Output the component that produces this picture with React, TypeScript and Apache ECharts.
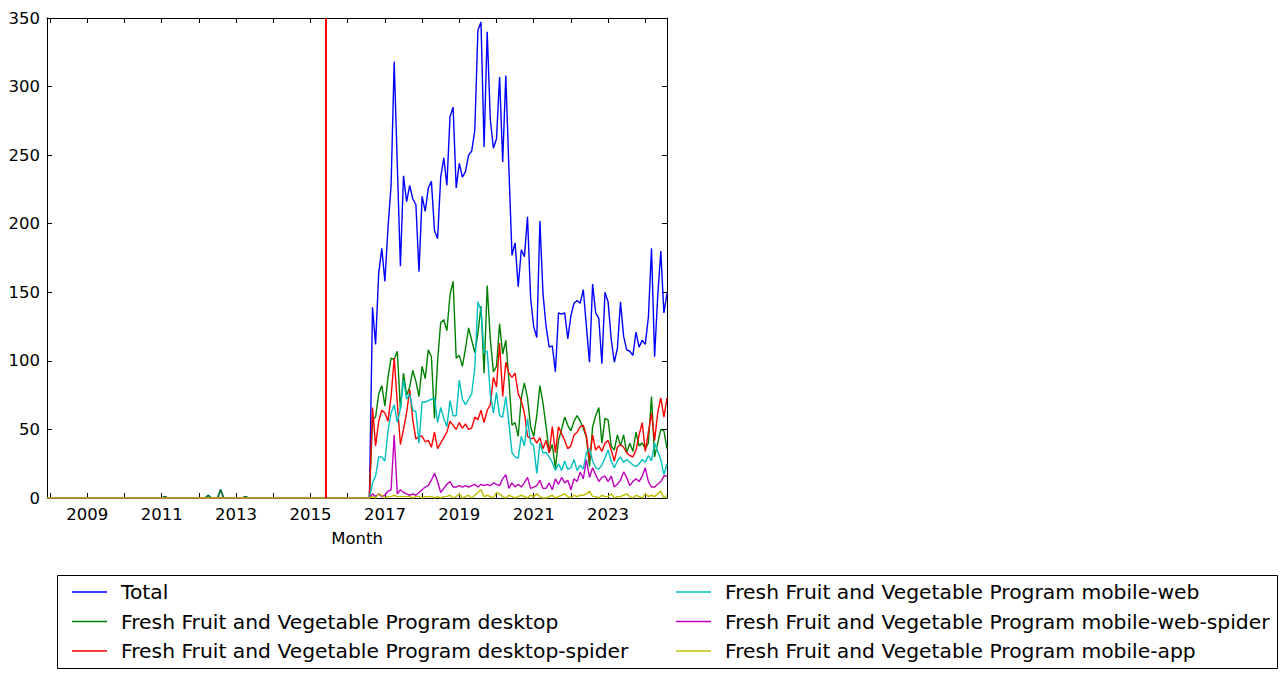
import React, { useEffect, useRef } from "react";
import * as echarts from "echarts";

const SERIES_NAMES = [
  "Total",
  "Fresh Fruit and Vegetable Program desktop",
  "Fresh Fruit and Vegetable Program desktop-spider",
  "Fresh Fruit and Vegetable Program mobile-web",
  "Fresh Fruit and Vegetable Program mobile-web-spider",
  "Fresh Fruit and Vegetable Program mobile-app",
];
const SERIES_COLORS = ["#0000ff", "#008000", "#ff0000", "#00bfbf", "#bf00bf", "#bfbf00"];

const X_MIN_MONTH = "2007-12";
const X_MAX_MONTH = "2024-08";
const FIRST_MONTH = "2016-09";
const VLINE_MONTH = "2015-06";
const X_TICK_YEARS = [2008, 2009, 2010, 2011, 2012, 2013, 2014, 2015, 2016, 2017, 2018, 2019, 2020, 2021, 2022, 2023, 2024];
const X_LABEL_YEARS = [2009, 2011, 2013, 2015, 2017, 2019, 2021, 2023];
const Y_MAX = 350;
const Y_STEP = 50;

// sparse early points (before monthly data starts)
const earlyDesktop: [string, number][] = [
  ["2007-12", 0], ["2011-01", 0], ["2011-02", 1], ["2011-03", 0],
  ["2012-03", 0], ["2012-04", 2], ["2012-05", 0], ["2012-07", 0],
  ["2012-08", 6], ["2012-09", 0], ["2013-03", 0], ["2013-04", 1],
  ["2013-05", 0], ["2016-08", 0],
];
const earlyFlat: [string, number][] = [["2007-12", 0], ["2016-08", 0]];

// monthly values from 2016-09 to 2024-08
const total = [
  139, 112, 164, 182, 158, 197, 228, 318, 243, 169,
  235, 216, 228, 218, 214, 165, 220, 209, 226, 231,
  195, 189, 234, 248, 228, 278, 285, 226, 244, 234,
  238, 250, 253, 268, 341, 347, 256, 340, 276, 255,
  262, 307, 245, 308, 240, 177, 186, 154, 181, 176,
  205, 146, 125, 117, 202, 149, 125, 110, 111, 92,
  135, 134, 135, 116, 133, 142, 144, 142, 152, 125,
  99, 156, 135, 131, 98, 150, 143, 116, 99, 109,
  143, 118, 108, 107, 104, 121, 110, 115, 112, 132,
  182, 103, 147, 180, 135, 149,
];
const desktop = [
  57, 59, 76, 82, 67, 88, 102, 101, 107, 65,
  91, 75, 81, 93, 85, 74, 96, 87, 108, 103,
  58, 100, 128, 130, 122, 148, 158, 102, 104, 96,
  109, 124, 115, 106, 120, 140, 91, 155, 116, 92,
  96, 127, 105, 115, 86, 53, 55, 45, 73, 84,
  73, 52, 45, 60, 82, 69, 52, 33, 39, 22,
  42, 50, 59, 53, 49, 56, 60, 56, 51, 44,
  23, 52, 60, 66, 40, 58, 57, 38, 35, 46,
  38, 46, 33, 40, 34, 48, 38, 40, 36, 40,
  74, 30, 40, 50, 49, 36,
];
const desktopSpider = [
  66, 38, 56, 64, 62, 56, 74, 102, 69, 39,
  50, 62, 79, 57, 43, 45, 45, 41, 42, 37,
  48, 36, 40, 44, 48, 56, 53, 50, 55, 51,
  54, 50, 51, 59, 57, 64, 55, 64, 68, 88,
  81, 113, 74, 99, 91, 88, 91, 76, 71, 62,
  45, 43, 44, 40, 44, 36, 42, 33, 52, 33,
  52, 47, 42, 36, 38, 46, 48, 52, 53, 45,
  28, 46, 35, 38, 34, 40, 42, 35, 27, 37,
  39, 37, 33, 31, 30, 35, 46, 55, 34, 48,
  62, 42, 62, 73, 59, 73,
];
const mobileWeb = [
  11, 16, 30, 30, 27, 49, 62, 68, 55, 65,
  86, 72, 76, 64, 63, 40, 70, 70, 71, 72,
  73, 55, 66, 58, 52, 71, 60, 60, 86, 72,
  68, 72, 76, 95, 143, 137, 106, 107, 76, 62,
  77, 60, 59, 74, 55, 33, 30, 29, 45, 38,
  58, 40, 38, 18, 40, 33, 33, 30, 26, 20,
  25, 20, 27, 21, 22, 28, 20, 24, 21, 33,
  36, 27, 22, 21, 24, 29, 35, 27, 22, 27,
  30, 26, 28, 26, 24, 23, 25, 28, 26, 31,
  27, 40, 34, 28, 17, 25,
];
const mobileWebSpider = [
  3, 1, 3, 1, 2, 5, 6, 46, 3, 6,
  4, 3, 2, 3, 2, 4, 6, 8, 9, 13,
  18, 12, 4, 7, 10, 12, 8, 8, 9, 8,
  9, 8, 9, 10, 8, 10, 9, 10, 9, 11,
  10, 9, 14, 17, 7, 11, 8, 10, 8, 11,
  15, 7, 8, 9, 13, 7, 7, 11, 6, 14,
  10, 15, 11, 13, 6, 14, 12, 19, 14, 28,
  15, 22, 17, 12, 15, 16, 12, 16, 8, 10,
  13, 19, 15, 9, 12, 14, 12, 16, 22, 12,
  8, 8, 10, 12, 16, 16,
];
const mobileApp = [
  1, 0, 3, 2, 0, 1, 1, 2, 1, 1,
  1, 1, 1, 0, 1, 1, 0, 1, 1, 1,
  0, 1, 0, 1, 1, 2, 0, 1, 3, 0,
  1, 2, 0, 2, 4, 6, 1, 2, 1, 0,
  4, 3, 1, 0, 2, 1, 0, 1, 2, 1,
  0, 2, 1, 3, 1, 0, 0, 1, 2, 0,
  1, 2, 3, 1, 0, 2, 1, 2, 2, 3,
  5, 1, 1, 0, 2, 1, 1, 3, 0, 1,
  1, 2, 3, 1, 0, 2, 1, 0, 3, 1,
  2, 1, 3, 5, 0, 2,
];

const SERIES_VALUES = [total, desktop, desktopSpider, mobileWeb, mobileWebSpider, mobileApp];
const SERIES_EARLY = [earlyDesktop, earlyDesktop, earlyFlat, earlyFlat, earlyFlat, earlyFlat];

function ym(s: string): number {
  const [y, m] = s.split("-").map(Number);
  return y + (m - 1) / 12;
}

const FONT = "DejaVu Sans";

export default function App() {
  const ref = useRef<HTMLDivElement>(null);
  useEffect(() => {
    if (!ref.current) return;
    const chart = echarts.init(ref.current, undefined, { renderer: "svg" });
    const start = ym(FIRST_MONTH);
    const series: any[] = SERIES_NAMES.map((name, si) => {
      const data: [number, number][] = SERIES_EARLY[si].map(([m, v]) => [ym(m), v]);
      SERIES_VALUES[si].forEach((v, i) => data.push([start + i / 12, v]));
      const s: any = {
        name,
        type: "line",
        data,
        symbol: "none",
        showSymbol: false,
        clip: true,
        color: SERIES_COLORS[si],
        lineStyle: { color: SERIES_COLORS[si], width: 1.4 },
        emphasis: { disabled: true },
        xAxisIndex: 0,
        yAxisIndex: 0,
      };
      if (si === 0) {
        s.markLine = {
          silent: true,
          symbol: ["none", "none"],
          label: { show: false },
          lineStyle: { color: "#ff0000", width: 2, type: "solid" },
          emphasis: { disabled: true },
          data: [{ xAxis: ym(VLINE_MONTH) }],
        };
      }
      return s;
    });
    const axisLine = { show: true, onZero: false, lineStyle: { color: "#000", width: 1 } };
    const tickStyle = { color: "#000", width: 1 };
    const xMin = ym(X_MIN_MONTH);
    const xMax = ym(X_MAX_MONTH);
    const legendCommon = {
      orient: "vertical",
      top: 582,
      padding: 0,
      icon: "rect",
      itemWidth: 35,
      itemHeight: 1.5,
      itemGap: 9.5,
      selectedMode: false,
      textStyle: { fontFamily: FONT, fontSize: 20.3, color: "#000", lineHeight: 20, padding: [0, 0, 0, 9] },
    };
    chart.setOption({
      animation: false,
      backgroundColor: "#ffffff",
      grid: { left: 47, top: 18, width: 620, height: 480, containLabel: false },
      xAxis: [
        {
          type: "value",
          position: "bottom",
          min: xMin,
          max: xMax,
          axisLine,
          axisTick: { show: true, inside: true, length: 5, customValues: X_TICK_YEARS, lineStyle: tickStyle },
          axisLabel: {
            customValues: X_LABEL_YEARS,
            formatter: (v: number) => String(Math.round(v)),
            color: "#000",
            fontFamily: FONT,
            fontSize: 16.5,
            margin: 8,
          },
          splitLine: { show: false },
          name: "Month",
          nameLocation: "middle",
          nameGap: 32,
          nameTextStyle: { color: "#000", fontFamily: FONT, fontSize: 16.5 },
        },
        {
          type: "value",
          position: "top",
          min: xMin,
          max: xMax,
          axisLine,
          axisTick: { show: true, inside: true, length: 5, customValues: X_TICK_YEARS, lineStyle: tickStyle },
          axisLabel: { show: false },
          splitLine: { show: false },
        },
      ],
      yAxis: [
        {
          type: "value",
          position: "left",
          min: 0,
          max: Y_MAX,
          interval: Y_STEP,
          axisLine,
          axisTick: { show: true, inside: true, length: 5, lineStyle: tickStyle },
          axisLabel: { color: "#000", fontFamily: FONT, fontSize: 16.5, margin: 7 },
          splitLine: { show: false },
        },
        {
          type: "value",
          position: "right",
          min: 0,
          max: Y_MAX,
          interval: Y_STEP,
          axisLine,
          axisTick: { show: true, inside: true, length: 5, lineStyle: tickStyle },
          axisLabel: { show: false },
          splitLine: { show: false },
        },
      ],
      legend: [
        { ...legendCommon, left: 72, data: SERIES_NAMES.slice(0, 3) },
        { ...legendCommon, left: 676, data: SERIES_NAMES.slice(3, 6) },
      ],
      graphic: [
        {
          type: "rect",
          shape: { x: 57.5, y: 575.5, width: 1220, height: 93 },
          style: { fill: "none", stroke: "#000", lineWidth: 1 },
          silent: true,
        },
      ],
      series,
    });
    return () => chart.dispose();
  }, []);
  return (
    <div
      ref={ref}
      style={{ position: "fixed", left: 0, top: 0, width: 1288, height: 679, background: "#fff" }}
    />
  );
}
